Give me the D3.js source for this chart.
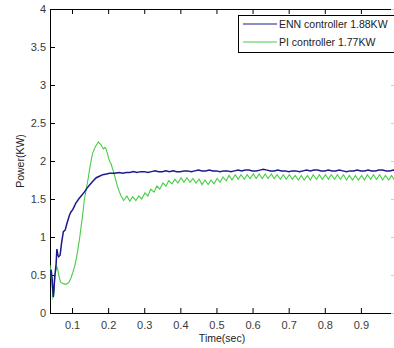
<!DOCTYPE html>
<html>
<head>
<meta charset="utf-8">
<script src="https://cdn.jsdelivr.net/npm/d3@7"></script>
<style>
    body { margin: 0; background: #fff; }
    svg { display: block; font-family: 'Liberation Sans', Arial, sans-serif; }
</style>
</head>
<body>
<svg></svg>
<script>
const width = 394;
const height = 348;
const margin = { top: 9, right: -3, bottom: 35, left: 50 };

const xTicks = [0.1, 0.2, 0.3, 0.4, 0.5, 0.6, 0.7, 0.8, 0.9];
const yTicks = [0, 0.5, 1, 1.5, 2, 2.5, 3, 3.5, 4];
const seriesNames = ['ENN controller 1.88KW', 'PI controller 1.77KW'];
const seriesColors = ['#1b1b8e', '#47cc47'];

// ENN controller output power (KW)
const ennTime = [
    0.039, 0.042, 0.045, 0.048, 0.050, 0.052, 0.056, 0.058, 0.061, 0.063,
    0.067, 0.071, 0.076, 0.081, 0.086, 0.093, 0.097, 0.102, 0.106, 0.111,
    0.120, 0.127, 0.134, 0.141, 0.148, 0.157, 0.167, 0.176, 0.185, 0.195,
    0.204, 0.218, 0.230, 0.240, 0.250, 0.26, 0.27, 0.28, 0.29, 0.30,
    0.31, 0.32, 0.33, 0.34, 0.35, 0.36, 0.37, 0.38, 0.39, 0.40,
    0.41, 0.42, 0.43, 0.44, 0.45, 0.46, 0.47, 0.48, 0.49, 0.50,
    0.51, 0.52, 0.53, 0.54, 0.55, 0.56, 0.57, 0.58, 0.59, 0.60,
    0.61, 0.62, 0.63, 0.64, 0.65, 0.66, 0.67, 0.68, 0.69, 0.70,
    0.71, 0.72, 0.73, 0.74, 0.75, 0.76, 0.77, 0.78, 0.79, 0.80,
    0.81, 0.82, 0.83, 0.84, 0.85, 0.86, 0.87, 0.88, 0.89, 0.90,
    0.91, 0.92, 0.93, 0.94, 0.95, 0.96, 0.97, 0.98, 0.99, 1.00
];
const ennPower = [
    0.50, 0.57, 0.45, 0.21, 0.30, 0.47, 0.65, 0.84, 0.76, 0.74,
    0.76, 0.92, 1.07, 1.09, 1.18, 1.29, 1.33, 1.36, 1.40, 1.45,
    1.51, 1.55, 1.59, 1.64, 1.68, 1.73, 1.78, 1.80, 1.82, 1.83,
    1.84, 1.84, 1.85, 1.84, 1.85, 1.85, 1.86, 1.85, 1.86, 1.86,
    1.85, 1.86, 1.87, 1.86, 1.86, 1.87, 1.86, 1.87, 1.86, 1.86,
    1.87, 1.87, 1.86, 1.87, 1.88, 1.87, 1.87, 1.88, 1.87, 1.87,
    1.86, 1.87, 1.87, 1.86, 1.87, 1.88, 1.87, 1.88, 1.88, 1.87,
    1.87, 1.88, 1.89, 1.88, 1.87, 1.87, 1.88, 1.87, 1.87, 1.86,
    1.87, 1.87, 1.86, 1.87, 1.88, 1.87, 1.88, 1.88, 1.87, 1.87,
    1.88, 1.87, 1.87, 1.88, 1.87, 1.86, 1.87, 1.87, 1.88, 1.87,
    1.87, 1.88, 1.87, 1.87, 1.88, 1.88, 1.87, 1.87, 1.88, 1.87
];

// PI controller output power (KW)
const piTime = [
    0.039, 0.041, 0.043, 0.045, 0.047, 0.049, 0.051, 0.054, 0.058, 0.061,
    0.063, 0.068, 0.073, 0.079, 0.084, 0.088, 0.092, 0.097, 0.102, 0.107,
    0.112, 0.116, 0.121, 0.125, 0.130, 0.134, 0.139, 0.144, 0.149, 0.153,
    0.157, 0.161, 0.165, 0.169, 0.173, 0.177, 0.181, 0.184, 0.187, 0.191,
    0.194, 0.198, 0.201, 0.205, 0.209, 0.212, 0.215, 0.220, 0.225, 0.230,
    0.235,
    0.243, 0.252, 0.260, 0.268, 0.277, 0.285, 0.293, 0.302, 0.310, 0.318,
    0.327, 0.335, 0.343, 0.352, 0.360, 0.368, 0.377, 0.385, 0.393, 0.402,
    0.410, 0.418, 0.427, 0.435, 0.443, 0.452, 0.460, 0.468, 0.477, 0.485,
    0.493, 0.502, 0.510, 0.518, 0.527, 0.535, 0.543, 0.552, 0.560, 0.568,
    0.577, 0.585, 0.593, 0.602, 0.610, 0.618, 0.627, 0.635, 0.643, 0.652,
    0.660, 0.668, 0.677, 0.685, 0.693, 0.702, 0.710, 0.718, 0.727, 0.735,
    0.743, 0.752, 0.760, 0.768, 0.777, 0.785, 0.793, 0.802, 0.810, 0.818,
    0.827, 0.835, 0.843, 0.852, 0.860, 0.868, 0.877, 0.885, 0.893, 0.902,
    0.910, 0.918, 0.927, 0.935, 0.943, 0.952, 0.960, 0.968, 0.977, 0.985,
    0.993, 1.002
];
const piPower = [
    0.63, 0.55, 0.45, 0.34, 0.20, 0.22, 0.38, 0.53, 0.61, 0.56,
    0.50, 0.41, 0.39, 0.38, 0.38, 0.39, 0.41, 0.46, 0.53, 0.61,
    0.72, 0.83, 0.98, 1.13, 1.31, 1.49, 1.62, 1.75, 1.90, 2.01,
    2.10, 2.15, 2.19, 2.22, 2.25, 2.23, 2.21, 2.18, 2.16, 2.18,
    2.16, 2.10, 2.04, 1.99, 1.95, 1.90, 1.86, 1.77, 1.68, 1.61,
    1.55,
    1.48, 1.54, 1.47, 1.53, 1.48, 1.54, 1.50, 1.58, 1.54, 1.63,
    1.59, 1.67, 1.63, 1.71, 1.67, 1.74, 1.70, 1.76, 1.71, 1.78,
    1.72, 1.78, 1.72, 1.77, 1.71, 1.76, 1.69, 1.75, 1.69, 1.75,
    1.70, 1.77, 1.72, 1.79, 1.74, 1.81, 1.75, 1.82, 1.76, 1.82,
    1.76, 1.82, 1.77, 1.83, 1.77, 1.83, 1.77, 1.83, 1.77, 1.83,
    1.77, 1.82, 1.76, 1.82, 1.76, 1.82, 1.76, 1.81, 1.75, 1.81,
    1.75, 1.81, 1.75, 1.82, 1.76, 1.82, 1.76, 1.82, 1.76, 1.82,
    1.76, 1.82, 1.76, 1.82, 1.75, 1.81, 1.75, 1.81, 1.75, 1.81,
    1.75, 1.82, 1.76, 1.82, 1.76, 1.82, 1.75, 1.81, 1.75, 1.81,
    1.75, 1.81
];

const plotRight = width - margin.right;
const plotBottom = height - margin.bottom;

const x = d3.scaleLinear()
    .domain([0.039, 1.0])
    .range([margin.left, plotRight]);

const y = d3.scaleLinear()
    .domain([0, 4])
    .range([plotBottom, margin.top]);

const svg = d3.select('svg')
    .attr('width', width)
    .attr('height', height);

svg.append('defs')
    .append('clipPath')
        .attr('id', 'plot-clip')
    .append('rect')
        .attr('x', margin.left)
        .attr('y', margin.top)
        .attr('width', plotRight - margin.left)
        .attr('height', plotBottom - margin.top);

// axes, matlab style: ticks pointing inward on all four sides
const tickStyle = g => {
    g.select('.domain').attr('stroke', '#000');
    g.selectAll('.tick line').attr('stroke', '#000');
    g.selectAll('.tick text')
        .attr('fill', '#3a3a3a')
        .style('font-size', '11px');
};

svg.append('g')
    .attr('transform', `translate(0, ${plotBottom})`)
    .call(d3.axisBottom(x).tickValues(xTicks).tickSizeInner(-5).tickSizeOuter(0).tickPadding(8)
        .tickFormat(d3.format('.1f')))
    .call(tickStyle);

svg.append('g')
    .attr('transform', `translate(0, ${margin.top})`)
    .call(d3.axisTop(x).tickValues(xTicks).tickSizeInner(-5).tickSizeOuter(0).tickFormat(''))
    .call(tickStyle);

svg.append('g')
    .attr('transform', `translate(${margin.left}, 0)`)
    .call(d3.axisLeft(y).tickValues(yTicks).tickSizeInner(-5).tickSizeOuter(0).tickPadding(4)
        .tickFormat(d3.format('')))
    .call(tickStyle);

svg.append('g')
    .attr('transform', `translate(${plotRight}, 0)`)
    .call(d3.axisRight(y).tickValues(yTicks).tickSizeInner(-6).tickSizeOuter(0).tickFormat(''))
    .call(tickStyle)
    .selectAll('.tick line')
        .attr('stroke', '#ccc');

// series
const line = d3.line()
    .x(d => x(d[0]))
    .y(d => y(d[1]));

const plot = svg.append('g')
    .attr('clip-path', 'url(#plot-clip)');

plot.append('path')
    .datum(piTime.map((t, i) => [t, piPower[i]]))
    .attr('fill', 'none')
    .attr('stroke', seriesColors[1])
    .attr('stroke-width', 1.1)
    .attr('d', line);

plot.append('path')
    .datum(ennTime.map((t, i) => [t, ennPower[i]]))
    .attr('fill', 'none')
    .attr('stroke', seriesColors[0])
    .attr('stroke-width', 1.5)
    .attr('d', line);

// legend
const legend = svg.append('g');

legend.append('rect')
    .attr('x', 238.5)
    .attr('y', 15.5)
    .attr('width', 170)
    .attr('height', 37)
    .attr('fill', '#fff')
    .attr('stroke', '#000');

seriesNames.forEach((name, i) => {
    const ly = 24 + i * 18;
    legend.append('line')
        .attr('x1', 243)
        .attr('x2', 277)
        .attr('y1', ly)
        .attr('y2', ly)
        .attr('stroke', seriesColors[i])
        .attr('stroke-width', 1.2);
    legend.append('text')
        .attr('x', 279)
        .attr('y', ly + 4)
        .attr('fill', '#222')
        .style('font-size', '10.5px')
        .text(name);
});

// axis titles
svg.append('text')
    .attr('x', 222)
    .attr('y', 342)
    .attr('text-anchor', 'middle')
    .attr('fill', '#222')
    .style('font-size', '10.5px')
    .text('Time(sec)');

svg.append('text')
    .attr('transform', 'translate(24, 161) rotate(-90)')
    .attr('text-anchor', 'middle')
    .attr('fill', '#222')
    .style('font-size', '10.5px')
    .text('Power(KW)');
</script>
</body>
</html>
